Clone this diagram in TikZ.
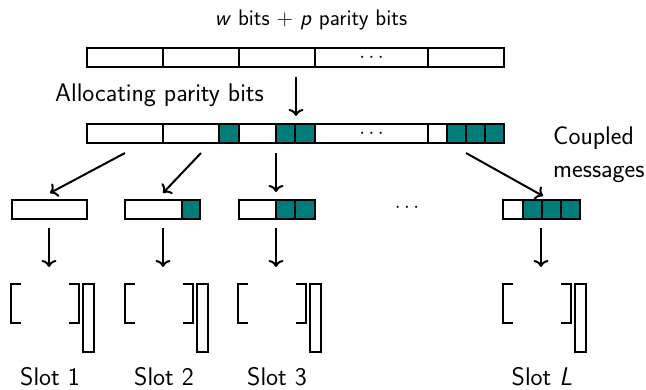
\documentclass[tikz,border=0pt]{standalone}
\usetikzlibrary{arrows.meta}
\definecolor{tealc}{RGB}{0,125,122}
\begin{document}
\begin{tikzpicture}[x=1pt,y=-1pt,
  cell/.style={draw=black,line width=2pt,fill=white,minimum height=19pt,inner sep=0pt,outer sep=0pt,anchor=west},
  pcell/.style={cell,fill=tealc},
  arr/.style={line width=2pt,-{To[length=7pt,width=15pt,line width=2pt]}},
  brk/.style={line width=2.2pt},
  lbl/.style={font=\fontsize{25.5}{33}\selectfont\sffamily,inner sep=0pt},
  dots/.style={font=\fontsize{22}{24}\selectfont,inner sep=0pt}]
\useasboundingbox (0,0) rectangle (646,390);
% title
\node[lbl,font=\fontsize{22.5}{27}\selectfont\sffamily] (title) at (311,20) {\textsl{w} bits + \textsl{p} parity bits};
% top bar
\node[cell,minimum width=76pt] (t1) at (87,58) {};
\node[cell,minimum width=76pt] (t2) at (163,58) {};
\node[cell,minimum width=76pt] (t3) at (239,58) {};
\node[cell,minimum width=113pt] (t4) at (315,58) {};
\node[cell,minimum width=76pt] (t5) at (428,58) {};
\node[dots] at (t4.center) {$\cdots$};
% second bar
\node[cell,minimum width=76pt] (a1) at (87,133.5) {};
\node[cell,minimum width=56pt] (a2) at (163,133.5) {};
\node[pcell,minimum width=20pt] (a3) at (219,133.5) {};
\node[cell,minimum width=37pt] (a4) at (239,133.5) {};
\node[pcell,minimum width=19pt] (a5) at (276,133.5) {};
\node[pcell,minimum width=20pt] (a6) at (295,133.5) {};
\node[cell,minimum width=113pt] (a7) at (315,133.5) {};
\node[cell,minimum width=19pt] (a8) at (428,133.5) {};
\node[pcell,minimum width=19pt] (a9) at (447,133.5) {};
\node[pcell,minimum width=19pt] (a10) at (466,133.5) {};
\node[pcell,minimum width=19pt] (a11) at (485,133.5) {};
\node[dots] at (a7.center) {$\cdots$};
% labels
\node[lbl] (alloc) at (159.5,95) {Allocating parity bits};
\node[lbl,align=left,anchor=west] (coupled) at (553,155) {Coupled\\messages};
% third row
\node[cell,minimum width=75pt] (s1) at (12,209.5) {};
\node[cell,minimum width=57pt] (s2a) at (125,209.5) {};
\node[pcell,minimum width=18pt] (s2b) at (182,209.5) {};
\node[cell,minimum width=37pt] (s3a) at (239,209.5) {};
\node[pcell,minimum width=19pt] (s3b) at (276,209.5) {};
\node[pcell,minimum width=20pt] (s3c) at (295,209.5) {};
\node[cell,minimum width=20pt] (sLa) at (503,209.5) {};
\node[pcell,minimum width=19pt] (sLb) at (523,209.5) {};
\node[pcell,minimum width=19pt] (sLc) at (542,209.5) {};
\node[pcell,minimum width=19pt] (sLd) at (561,209.5) {};
\node[dots] (rdots) at (407,208) {$\cdots$};
% arrows
\coordinate (c0a) at (296,77); \coordinate (c0b) at (296,116);
\draw[arr] (c0a) -- (c0b);
\coordinate (d1a) at (125,153); \coordinate (d1b) at (50,193);
\coordinate (d2a) at (201,153); \coordinate (d2b) at (163,193);
\coordinate (d3a) at (276,153); \coordinate (d3b) at (276,192);
\coordinate (d4a) at (466,153); \coordinate (d4b) at (543,196);
\draw[arr] (d1a) -- (d1b);
\draw[arr] (d2a) -- (d2b);
\draw[arr] (d3a) -- (d3b);
\draw[arr] (d4a) -- (d4b);
% slots
\foreach \s/\name/\lab in {0/1/{Slot 1},114/2/{Slot 2},227/3/{Slot 3},492/L/{Slot \textsl{L}}}{
  \begin{scope}[xshift=\s pt]
    \coordinate (v\name a) at (49,228); \coordinate (v\name b) at (49,267);
    \draw[arr] (v\name a) -- (v\name b);
    \draw[brk] (21,284) -- (11,284) -- (11,323) -- (21,323);
    \draw[brk] (69,284) -- (79,284) -- (79,323) -- (69,323);
    \draw[brk] (83,284) rectangle (94,352);
    \node[lbl] (slot\name) at (50,377) {\lab};
  \end{scope}
}
\end{tikzpicture}
\end{document}
